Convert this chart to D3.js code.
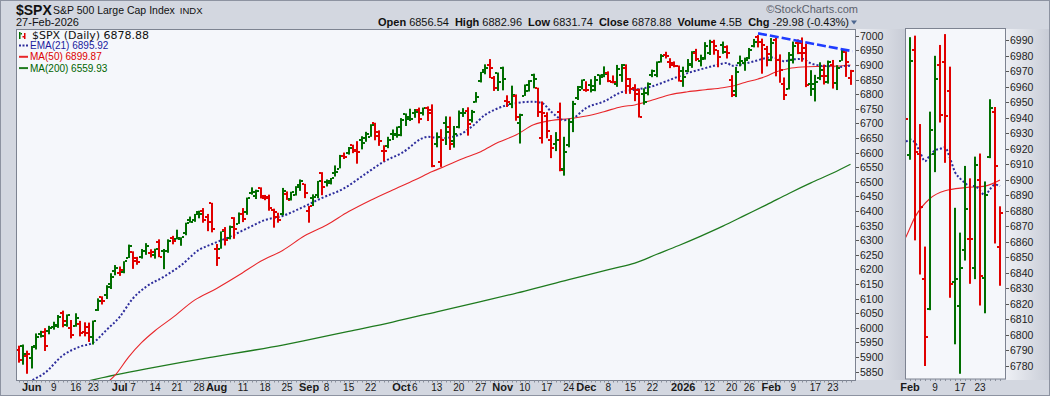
<!DOCTYPE html>
<html lang="en">
<head>
<meta charset="UTF-8">
<title>$SPX S&amp;P 500 Large Cap Index</title>
<script src="https://d3js.org/d3.v7.min.js"></script>
<style>
  body { margin: 0; background: #d3d7e0; }
  svg { display: block; font-family: "Liberation Sans", Arial, sans-serif; }
</style>
</head>
<body>
<svg id="chart" width="1050" height="396"></svg>
<script>
// trading days shown on the chart
const dates = [
  "2025-05-28","2025-05-29","2025-05-30",
  "2025-06-02","2025-06-03","2025-06-04","2025-06-05","2025-06-06","2025-06-09","2025-06-10","2025-06-11","2025-06-12","2025-06-13",
  "2025-06-16","2025-06-17","2025-06-18","2025-06-20","2025-06-23","2025-06-24","2025-06-25","2025-06-26","2025-06-27","2025-06-30",
  "2025-07-01","2025-07-02","2025-07-03","2025-07-07","2025-07-08","2025-07-09","2025-07-10","2025-07-11","2025-07-14","2025-07-15",
  "2025-07-16","2025-07-17","2025-07-18","2025-07-21","2025-07-22","2025-07-23","2025-07-24","2025-07-25","2025-07-28","2025-07-29","2025-07-30","2025-07-31",
  "2025-08-01","2025-08-04","2025-08-05","2025-08-06","2025-08-07","2025-08-08","2025-08-11","2025-08-12","2025-08-13","2025-08-14","2025-08-15",
  "2025-08-18","2025-08-19","2025-08-20","2025-08-21","2025-08-22","2025-08-25","2025-08-26","2025-08-27","2025-08-28","2025-08-29",
  "2025-09-02","2025-09-03","2025-09-04","2025-09-05","2025-09-08","2025-09-09","2025-09-10","2025-09-11","2025-09-12","2025-09-15",
  "2025-09-16","2025-09-17","2025-09-18","2025-09-19","2025-09-22","2025-09-23","2025-09-24","2025-09-25","2025-09-26","2025-09-29","2025-09-30",
  "2025-10-01","2025-10-02","2025-10-03","2025-10-06","2025-10-07","2025-10-08","2025-10-09","2025-10-10","2025-10-13","2025-10-14","2025-10-15",
  "2025-10-16","2025-10-17","2025-10-20","2025-10-21","2025-10-22","2025-10-23","2025-10-24","2025-10-27","2025-10-28","2025-10-29","2025-10-30","2025-10-31",
  "2025-11-03","2025-11-04","2025-11-05","2025-11-06","2025-11-07","2025-11-10","2025-11-11","2025-11-12","2025-11-13","2025-11-14",
  "2025-11-17","2025-11-18","2025-11-19","2025-11-20","2025-11-21","2025-11-24","2025-11-25","2025-11-26","2025-11-28",
  "2025-12-01","2025-12-02","2025-12-03","2025-12-04","2025-12-05","2025-12-08","2025-12-09","2025-12-10","2025-12-11","2025-12-12",
  "2025-12-15","2025-12-16","2025-12-17","2025-12-18","2025-12-19","2025-12-22","2025-12-23","2025-12-24","2025-12-26","2025-12-29","2025-12-30","2025-12-31",
  "2026-01-02","2026-01-05","2026-01-06","2026-01-07","2026-01-08","2026-01-09","2026-01-12","2026-01-13","2026-01-14","2026-01-15","2026-01-16",
  "2026-01-20","2026-01-21","2026-01-22","2026-01-23","2026-01-26","2026-01-27","2026-01-28","2026-01-29","2026-01-30",
  "2026-02-02","2026-02-03","2026-02-04","2026-02-05","2026-02-06","2026-02-09","2026-02-10","2026-02-11","2026-02-12","2026-02-13",
  "2026-02-17","2026-02-18","2026-02-19","2026-02-20","2026-02-23","2026-02-24","2026-02-25","2026-02-26","2026-02-27"
];

const opens = [
  5925,5939,5903,
  5897,5938,5978,5985,5988,6004,6010,6050,6010,6000,6005,6012,5986,6004,5970,6062,6104,6112,6151,6193,
  6188,6191,6239,6259,6240,6243,6263,6255,6250,6295,6262,6264,6307,6304,6307,6326,6368,6370,6397,6399,6378,6428,
  6271,6271,6336,6309,6375,6356,6389,6398,6461,6453,6478,6445,6446,6405,6380,6389,6457,6440,6455,6490,6491,
  6401,6444,6456,6530,6498,6501,6531,6545,6588,6600,6625,6609,6644,6650,6654,6702,6672,6606,6621,6662,6662,
  6661,6732,6722,6736,6747,6734,6754,6744,6629,6567,6701,6686,6638,6686,6736,6743,6712,6772,6845,6884,6899,6856,6871,
  6890,6778,6766,6795,6700,6794,6811,6864,6820,6650,6726,6643,6628,6740,6545,6627,6703,6786,6823,
  6813,6831,6815,6867,6867,6872,6840,6836,6866,6890,6853,6820,6815,6800,6805,6865,6866,6910,6935,6911,6900,6895,
  6878,6880,6900,6940,6913,6925,6940,6977,6950,6969,6960,6850,6810,6905,6905,6925,6965,6995,6980,6955,
  6916,6984,6917,6836,6817,6917,6974,6976,6957,6834,6819,6855,6862,6843,6900,6837,6915,6944,6856.54
];
const highs = [
  5939,5943,5922,
  5938,5981,5990,5999,6007,6021,6044,6059,6046,6027,6050,6024,6019,6018,6025,6101,6108,6146,6187,6215,
  6210,6228,6285,6262,6243,6270,6290,6269,6271,6303,6270,6303,6315,6336,6310,6360,6381,6390,6401,6410,6390,6428,
  6287,6330,6345,6350,6379,6395,6410,6446,6481,6473,6481,6455,6456,6408,6394,6479,6467,6466,6485,6508,6493,
  6417,6457,6503,6533,6508,6513,6556,6592,6600,6619,6627,6639,6656,6671,6697,6702,6676,6625,6654,6679,6689,
  6718,6734,6750,6749,6754,6754,6758,6765,6669,6680,6724,6723,6691,6744,6752,6755,6746,6807,6876,6902,6920,6862,6874,
  6894,6796,6829,6799,6733,6833,6848,6870,6822,6775,6738,6660,6670,6771,6654,6715,6777,6828,6850,
  6844,6851,6862,6867,6895,6878,6864,6900,6903,6902,6855,6834,6819,6820,6840,6884,6912,6937,6945,6923,6912,6898,
  6894,6920,6947,6955,6935,6978,6986,6986,6951,6980,6967,6865,6893,6932,6925,6958,6989,7002,6990,6965,
  6992,6993,6936,6857,6944,6980,6987,6994,6973,6882,6866,6909,6901,6915,6917,6899,6952,6947,6882.96
];
const lows = [
  5881,5874,5843,
  5861,5926,5967,5921,5978,5994,6000,6002,6004,5964,6004,5971,5971,5952,5943,6058,6080,6099,6133,6180,
  6178,6187,6239,6202,6216,6237,6250,6241,6237,6242,6201,6257,6286,6303,6281,6317,6360,6363,6375,6360,6331,6327,
  6212,6271,6282,6303,6305,6356,6362,6387,6456,6441,6443,6437,6401,6343,6360,6385,6438,6436,6453,6469,6444,
  6360,6417,6444,6454,6484,6491,6518,6546,6578,6593,6598,6562,6611,6637,6654,6642,6623,6570,6615,6643,6651,
  6656,6691,6708,6719,6700,6727,6708,6550,6618,6551,6626,6609,6617,6683,6722,6658,6703,6771,6840,6868,6855,6811,6811,
  6813,6756,6752,6709,6631,6794,6809,6820,6722,6631,6649,6581,6605,6536,6521,6618,6670,6780,6816,
  6808,6806,6810,6832,6858,6841,6837,6825,6842,6801,6801,6776,6720,6764,6796,6858,6858,6908,6922,6889,6892,6843,
  6825,6875,6890,6913,6895,6918,6934,6935,6892,6938,6922,6790,6790,6895,6880,6920,6960,6960,6870,6895,
  6913,6861,6839,6780,6816,6905,6937,6911,6824,6794,6775,6848,6833,6836,6819,6814,6914,6859,6831.74
];
const closes = [
  5888.55,5912.17,5911.69,
  5935.94,5970.37,5970.81,5939.30,6000.36,6005.88,6038.81,6022.24,6045.26,5976.97,6033.11,5982.72,5980.87,5967.84,6025.17,6092.18,6092.16,6141.02,6173.07,6204.95,
  6198.01,6227.42,6279.35,6229.98,6225.52,6263.26,6280.46,6259.75,6268.56,6243.76,6263.70,6297.36,6296.79,6305.60,6309.62,6358.91,6363.35,6388.64,6389.77,6370.86,6362.90,6339.39,
  6238.01,6329.94,6299.19,6345.06,6340.00,6389.45,6373.45,6445.76,6466.58,6468.54,6449.80,6449.15,6411.37,6395.78,6370.17,6466.91,6439.32,6465.94,6481.40,6501.86,6460.26,
  6415.54,6448.26,6502.08,6481.50,6495.15,6512.61,6532.04,6587.47,6584.29,6615.28,6606.76,6600.35,6631.96,6664.36,6693.75,6656.92,6637.97,6604.72,6643.70,6661.21,6688.46,
  6711.20,6715.35,6715.79,6740.28,6714.59,6753.72,6735.11,6552.51,6654.72,6644.31,6671.06,6629.07,6664.01,6735.13,6735.35,6699.40,6738.44,6791.69,6875.16,6890.89,6890.59,6822.34,6840.20,
  6851.97,6771.55,6796.29,6720.32,6728.80,6832.43,6846.61,6850.92,6737.49,6734.11,6672.41,6617.32,6642.16,6538.76,6602.99,6705.12,6765.88,6812.61,6849.09,
  6812.63,6829.37,6849.72,6857.12,6870.40,6846.51,6840.51,6886.68,6901.00,6827.41,6816.51,6800.26,6721.43,6774.76,6834.50,6878.49,6909.79,6932.05,6929.94,6905.74,6896.24,6845.50,
  6858.47,6902.05,6944.82,6920.93,6921.46,6966.28,6977.27,6963.74,6926.60,6944.47,6940.01,6796.86,6875.62,6913.35,6915.61,6950.23,6978.60,6978.03,6969.01,6939.03,
  6976.44,6917.81,6882.72,6798.40,6932.30,6964.82,6941.81,6941.47,6832.76,6836.17,6843.22,6881.31,6861.89,6909.51,6837.75,6890.07,6946.13,6908.86,6878.88
];

// indicator lines at the listed days
const emaDates = [
  "2025-05-28","2025-06-02","2025-06-05","2025-06-11","2025-06-17","2025-06-23","2025-06-26","2025-07-01","2025-07-07","2025-07-10",
  "2025-07-16","2025-07-22","2025-07-28","2025-07-31","2025-08-06","2025-08-12","2025-08-18","2025-08-22","2025-08-28","2025-09-05",
  "2025-09-12","2025-09-19","2025-09-25","2025-10-01","2025-10-09","2025-10-14","2025-10-20","2025-10-23","2025-10-28","2025-10-31",
  "2025-11-06","2025-11-12","2025-11-14","2025-11-18","2025-11-21","2025-11-25","2025-12-01","2025-12-05","2025-12-11","2025-12-16",
  "2025-12-22","2025-12-29","2026-01-05","2026-01-09","2026-01-14","2026-01-16","2026-01-20","2026-01-22","2026-01-27","2026-01-30",
  "2026-02-02","2026-02-03","2026-02-04","2026-02-05","2026-02-06","2026-02-09","2026-02-10","2026-02-11","2026-02-12","2026-02-13",
  "2026-02-17","2026-02-18","2026-02-19","2026-02-20","2026-02-23","2026-02-24","2026-02-25","2026-02-26","2026-02-27"
];
const ema21 = [
  5795,5820,5846,5905,5936,5950,5993,6038,6101,6141,
  6175,6215,6267,6287,6312,6341,6369,6383,6409,6445,
  6478,6529,6569,6598,6654,6649,6660,6689,6729,6752,
  6769,6774,6769,6740,6711,6718,6753,6775,6807,6815,
  6827,6849,6872,6889,6901,6907,6897,6901,6912,6924,
  6926,6924,6918,6912,6916,6919,6920,6921,6914,6905,
  6901,6898,6896,6896,6893,6890,6894,6897,6895.92
];
const ma50Dates = [
  "2025-06-24","2025-06-30","2025-07-03","2025-07-09","2025-07-14","2025-07-18","2025-07-25","2025-08-01","2025-08-08","2025-08-15",
  "2025-08-22","2025-08-29","2025-09-08","2025-09-15","2025-09-22","2025-09-29","2025-10-06","2025-10-10","2025-10-15","2025-10-21",
  "2025-10-27","2025-10-31","2025-11-06","2025-11-12","2025-11-18","2025-11-24","2025-12-01","2025-12-05","2025-12-11","2025-12-16",
  "2025-12-22","2025-12-29","2026-01-05","2026-01-09","2026-01-15","2026-01-20","2026-01-23","2026-01-28","2026-01-30","2026-02-03",
  "2026-02-06","2026-02-11","2026-02-18","2026-02-24","2026-02-27"
];
const ma50 = [
  5790,5839,5900,5950,5990,6035,6095,6135,6180,6228,
  6265,6315,6352,6398,6437,6472,6506,6535,6554,6580,
  6603,6635,6660,6695,6710,6716,6725,6740,6757,6763,
  6780,6798,6808,6815,6822,6827,6840,6852,6862,6876,
  6888,6893,6895,6896,6899.87
];
const ma200Dates = [
  "2025-06-17","2025-06-30","2025-07-10","2025-07-22","2025-07-31","2025-08-12","2025-08-22","2025-08-29","2025-09-15","2025-09-29",
  "2025-10-13","2025-10-27","2025-11-10","2025-11-24","2025-12-02","2025-12-09","2025-12-16","2025-12-23","2025-12-31","2026-01-08",
  "2026-01-15","2026-01-23","2026-01-30","2026-02-06","2026-02-13","2026-02-23","2026-02-27"
];
const ma200 = [
  5812,5839,5860,5882,5900,5920,5941,5956,5988,6020,
  6055,6090,6126,6165,6184,6203,6222,6252,6282,6314,
  6348,6385,6422,6460,6496,6530,6559.93
];

// hand-drawn trend line
const trendDates = ["2026-01-28", "2026-02-27"];
const trendValues = [7008, 6947];

// axis ticks
const xTickDates = [
  "2025-06-02","2025-06-09","2025-06-16","2025-06-23","2025-07-01","2025-07-07","2025-07-14","2025-07-21","2025-07-28",
  "2025-08-01","2025-08-11","2025-08-18","2025-08-25","2025-09-02","2025-09-08","2025-09-15","2025-09-22",
  "2025-10-01","2025-10-06","2025-10-13","2025-10-20","2025-10-27","2025-11-03","2025-11-10","2025-11-17","2025-11-24",
  "2025-12-01","2025-12-08","2025-12-15","2025-12-22","2026-01-02","2026-01-12","2026-01-20","2026-01-26",
  "2026-02-02","2026-02-09","2026-02-17","2026-02-23"
];
const xTickLabels = [
  "Jun","9","16","23","Jul","7","14","21","28",
  "Aug","11","18","25","Sep","8","15","22",
  "Oct","6","13","20","27","Nov","10","17","24",
  "Dec","8","15","22","2026","12","20","26",
  "Feb","9","17","23"
];
const sideTickDates = ["2026-02-02","2026-02-09","2026-02-17","2026-02-23"];
const sideTickLabels = ["Feb","9","17","23"];
const mainYTicks = d3.range(5850, 7001, 50);
const sideYTicks = d3.range(6780, 6991, 10);

// header text
const quoteLabels = ["Open","High","Low","Close","Volume","Chg"];
const quoteValues = ["6856.54","6882.96","6831.74","6878.88","4.5B","-29.98 (-0.43%)"];
const legendItems = ["EMA(21) 6895.92", "MA(50) 6899.87", "MA(200) 6559.93"];

const GREEN = "#006e00", RED = "#e00000";
const idxOf = new Map(dates.map((d, i) => [d, i]));
const svg = d3.select("#chart");

// background + gradient strips next to the price axes
const defs = svg.append("defs");
const grad = defs.append("linearGradient").attr("id", "axisGrad");
grad.append("stop").attr("offset", "0%").attr("stop-color", "#eef0f5");
grad.append("stop").attr("offset", "100%").attr("stop-color", "#c8ccd6");

svg.append("rect").attr("width", 1050).attr("height", 396).attr("fill", "#d3d7e0");
svg.append("rect").attr("x", 856).attr("y", 29).attr("width", 49).attr("height", 351).attr("fill", "url(#axisGrad)");
svg.append("rect").attr("x", 1006).attr("y", 29).attr("width", 44).attr("height", 351).attr("fill", "url(#axisGrad)");
svg.append("rect").attr("x", 0.5).attr("y", 0.5).attr("width", 1049).attr("height", 395)
  .attr("fill", "none").attr("stroke", "#8d93a1");

// panels
const mainBox = { x: 16.5, y: 29.5, w: 839, h: 351 };
const sideBox = { x: 905.5, y: 28.5, w: 100, h: 350.5 };

[["mainClip", mainBox], ["sideClip", sideBox]].forEach(([id, b]) => {
  defs.append("clipPath").attr("id", id).append("rect")
    .attr("x", b.x + 0.5).attr("y", b.y + 0.5).attr("width", b.w - 1).attr("height", b.h - 1);
});
[mainBox, sideBox].forEach(b => {
  svg.append("rect").attr("x", b.x).attr("y", b.y).attr("width", b.w).attr("height", b.h)
    .attr("fill", "#f5f7fb").attr("stroke", "#7d8391");
});

// scales
const x = d3.scaleLinear().domain([0, dates.length - 1]).range([18.5, 850.5]);
const y = d3.scaleLinear().domain([5850, 7000]).range([371.7, 35.7]);
const xs = d3.scaleLinear().domain([idxOf.get("2026-02-02"), dates.length - 1]).range([910, 1000]);
const ys = d3.scaleLinear().domain([6780, 6990]).range([366, 40.3]);

const barColor = i => closes[i] >= (i ? closes[i - 1] : opens[i]) ? GREEN : RED;

function drawLines(g, sx, sy) {
  const line = d3.line().x(d => sx(d[0])).y(d => sy(d[1])).curve(d3.curveMonotoneX);
  const pts = (ds, vs) => ds.map((d, k) => [idxOf.get(d), vs[k]]);
  g.append("path").datum(pts(ma200Dates, ma200)).attr("d", line)
    .attr("fill", "none").attr("stroke", "#1e7a1e").attr("stroke-width", 1.3);
  g.append("path").datum(pts(ma50Dates, ma50)).attr("d", line)
    .attr("fill", "none").attr("stroke", "#e8262a").attr("stroke-width", 1.1);
  g.append("path").datum(pts(emaDates, ema21)).attr("d", line)
    .attr("fill", "none").attr("stroke", "#2d2d9c").attr("stroke-width", 2)
    .attr("stroke-dasharray", "2,2");
}

function drawBars(g, sx, sy, idx) {
  const bar = g.selectAll("g.bar").data(idx).join("g")
    .attr("class", "bar").attr("fill", barColor);
  bar.append("rect")
    .attr("x", i => Math.round(sx(i)) - 1).attr("width", 2)
    .attr("y", i => sy(highs[i]))
    .attr("height", i => Math.max(1, sy(lows[i]) - sy(highs[i])));
  bar.append("rect")
    .attr("x", i => Math.round(sx(i)) - 3).attr("width", 2)
    .attr("y", i => Math.round(sy(opens[i])) - 1).attr("height", 2);
  bar.append("rect")
    .attr("x", i => Math.round(sx(i)) + 1).attr("width", 2)
    .attr("y", i => Math.round(sy(closes[i])) - 1).attr("height", 2);
}

// main panel
const gMain = svg.append("g").attr("clip-path", "url(#mainClip)");
drawLines(gMain, x, y);
drawBars(gMain, x, y, d3.range(dates.length));
gMain.append("line")
  .attr("x1", x(idxOf.get(trendDates[0]))).attr("y1", y(trendValues[0]))
  .attr("x2", x(idxOf.get(trendDates[1])) + 2).attr("y2", y(trendValues[1]))
  .attr("stroke", "#1f3cff").attr("stroke-width", 2.6).attr("stroke-dasharray", "9,3");

// side (February close-up) panel
const gSide = svg.append("g").attr("clip-path", "url(#sideClip)");
drawLines(gSide, xs, ys);
drawBars(gSide, xs, ys, d3.range(idxOf.get("2026-01-29"), dates.length));

// price axes
function yAxis(ticks, sy, x0) {
  const g = svg.append("g").attr("font-size", 10.5).attr("fill", "#222");
  ticks.forEach(v => {
    const yy = Math.round(sy(v)) + 0.5;
    g.append("line").attr("x1", x0).attr("x2", x0 + 3).attr("y1", yy).attr("y2", yy).attr("stroke", "#555");
    g.append("text").attr("x", x0 + 4).attr("y", yy).attr("dy", "0.35em").text(v);
  });
}
yAxis(mainYTicks, y, 856);
yAxis(sideYTicks, ys, 1006);

// date axes
function xAxis(sx, idxs, tickDates, labels) {
  const g = svg.append("g");
  const bottom = sx === x ? 380.5 : 379;
  idxs.forEach(i => {
    const xx = Math.round(sx(i)) + 0.5;
    g.append("line").attr("x1", xx).attr("x2", xx).attr("y1", bottom).attr("y2", bottom + 2)
      .attr("stroke", "#8a909c");
  });
  tickDates.forEach((d, k) => {
    const lab = labels[k];
    const bold = /[A-Za-z]/.test(lab) || lab.length === 4;
    g.append("text")
      .attr("x", sx(idxOf.get(d))).attr("y", 391)
      .attr("text-anchor", "middle")
      .attr("font-size", bold ? 11 : 10)
      .attr("font-weight", bold ? "bold" : "normal")
      .attr("fill", "#1a1a1a")
      .text(lab);
  });
}
xAxis(x, d3.range(dates.length), xTickDates, xTickLabels);
xAxis(xs, d3.range(idxOf.get("2026-02-02"), dates.length), sideTickDates, sideTickLabels);

// header
svg.append("text").attr("x", 16).attr("y", 14.5).attr("font-size", 14).attr("font-weight", "bold")
  .attr("fill", "#111").text("$SPX");
const title = svg.append("text").attr("x", 53).attr("y", 13.5).attr("font-size", 10.5).attr("fill", "#111")
  .text("S&P 500 Large Cap Index");
const titleEnd = 53 + title.node().getComputedTextLength();
svg.append("text").attr("x", titleEnd + 5).attr("y", 13.5).attr("font-size", 9.5).attr("fill", "#111").text("INDX");
svg.append("text").attr("x", 16).attr("y", 25.5).attr("font-size", 11).attr("fill", "#111").text("27-Feb-2026");
svg.append("text").attr("x", 858).attr("y", 12.5).attr("text-anchor", "end").attr("font-size", 11)
  .attr("fill", "#5c616c").text("\u00A9StockCharts.com");

const quote = svg.append("text").attr("x", 849).attr("y", 25.5).attr("text-anchor", "end")
  .attr("font-size", 11).attr("fill", "#111");
quoteLabels.forEach((lab, k) => {
  quote.append("tspan").attr("font-weight", "bold").attr("dx", k ? 6 : 0).text(lab);
  quote.append("tspan").attr("dx", 3).text(quoteValues[k]);
});
svg.append("path").attr("d", "M851,20.5 L857,20.5 L854,24.5 Z").attr("fill", "#4d6790");

// legend inside the main panel
const leg = svg.append("g");
leg.append("rect").attr("x", 19).attr("y", 32).attr("width", 1.5).attr("height", 7).attr("fill", GREEN);
leg.append("rect").attr("x", 20.5).attr("y", 33).attr("width", 1.5).attr("height", 1.5).attr("fill", GREEN);
leg.append("rect").attr("x", 24).attr("y", 33).attr("width", 1.5).attr("height", 6).attr("fill", RED);
leg.append("rect").attr("x", 22.5).attr("y", 36).attr("width", 1.5).attr("height", 1.5).attr("fill", RED);
leg.append("text").attr("x", 32).attr("y", 38.5).attr("font-family", "'DejaVu Sans', Verdana, sans-serif")
  .attr("font-size", 11).attr("fill", "#111").text("$SPX (Daily) 6878.88");

const legColors = ["#1c1c9e", "#dd0000", "#006400"];
legendItems.forEach((t, k) => {
  const yy = 49 + k * 11.3;
  const l = leg.append("line").attr("x1", 19).attr("x2", 28).attr("y1", yy - 3.5).attr("y2", yy - 3.5)
    .attr("stroke", k === 0 ? "#2d2d9c" : (k === 1 ? "#e8262a" : "#1e7a1e")).attr("stroke-width", 2);
  if (k === 0) l.attr("stroke-dasharray", "2,1.5");
  leg.append("text").attr("x", 30).attr("y", yy).attr("font-size", 10).attr("fill", legColors[k]).text(t);
});
</script>
</body>
</html>
